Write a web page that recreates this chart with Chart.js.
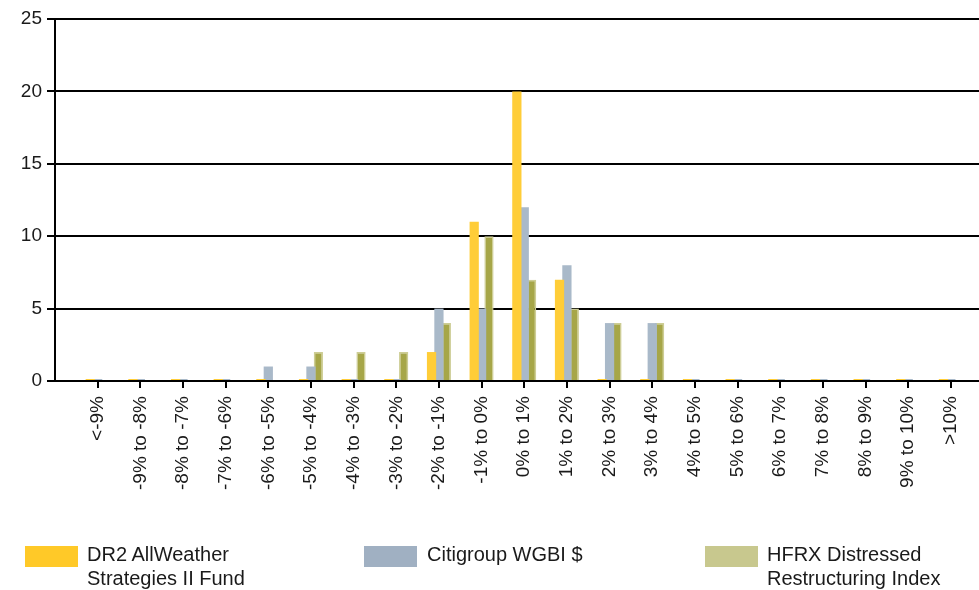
<!DOCTYPE html>
<html>
<head>
<meta charset="utf-8">
<script src="https://cdn.jsdelivr.net/npm/chart.js@4.4.1/dist/chart.umd.min.js"></script>
<style>
body { margin: 0; background: #fff; }
#wrap { position: relative; width: 979px; height: 590px; }
#legend { position: absolute; left: 0; top: 0; width: 979px; height: 590px; pointer-events: none; }
.item { position: absolute; top: 542px; font-family: "Liberation Sans", Arial, sans-serif; font-size: 20px; line-height: 24px; color: #1a1a1a; }
.sw { position: absolute; top: 4px; width: 53px; height: 21px; }
.txt { position: absolute; top: 0; white-space: nowrap; }
</style>
</head>
<body>
<div id="wrap">
<canvas id="chart" width="979" height="590"></canvas>
<div id="legend"></div>
</div>
<script>
var categories = ['<-9%', '-9% to -8%', '-8% to -7%', '-7% to -6%', '-6% to -5%', '-5% to -4%', '-4% to -3%', '-3% to -2%', '-2% to -1%', '-1% to 0%', '0% to 1%', '1% to 2%', '2% to 3%', '3% to 4%', '4% to 5%', '5% to 6%', '6% to 7%', '7% to 8%', '8% to 9%', '9% to 10%', '>10%'];
var fundValues = [0, 0, 0, 0, 0, 0, 0, 0, 2, 11, 20, 7, 0, 0, 0, 0, 0, 0, 0, 0, 0];
var wgbiValues = [0, 0, 0, 0, 1, 1, 0, 0, 5, 5, 12, 8, 4, 4, 0, 0, 0, 0, 0, 0, 0];
var hfrxValues = [0, 0, 0, 0, 0, 2, 2, 2, 4, 10, 7, 5, 4, 4, 0, 0, 0, 0, 0, 0, 0];
var seriesNames = [['DR2 AllWeather', 'Strategies II Fund'], ['Citigroup WGBI $'], ['HFRX Distressed', 'Restructuring Index']];
var yTicks = [0, 5, 10, 15, 20, 25];

function pts(vals){
	return vals.map(function(v, i){ return {x: i, y: v}; });
}

var swatchColors = ['#ffc928', '#a0b0c2', '#c8c88e'];
var legendPos = [[25, 87], [364, 427], [705, 767]];
var html = '';
for(var a = 0; a < seriesNames.length; a++){
	html += '<div class="item" style="left:0px"><div class="sw" style="left:' + legendPos[a][0] + 'px;background:' + swatchColors[a] + '"></div>' +
		'<div class="txt" style="left:' + legendPos[a][1] + 'px">' + seriesNames[a].join('<br>') + '</div></div>';
}
document.getElementById('legend').innerHTML = html;

Chart.defaults.font.family = '"Liberation Sans", Arial, sans-serif';
Chart.defaults.color = '#1a1a1a';

var ctx = document.getElementById('chart').getContext('2d');
var chart = new Chart(ctx, {
	type: 'bar',
	data: {
		datasets: [{
			label: seriesNames[0].join(' '),
			data: pts(fundValues),
			backgroundColor: '#ffcd38',
			minBarLength: 2
		}, {
			label: seriesNames[1].join(' '),
			data: pts(wgbiValues),
			backgroundColor: '#a9b9c9',
			minBarLength: 2
		}, {
			label: seriesNames[2].join(' '),
			data: pts(hfrxValues),
			backgroundColor: '#a6a648',
			borderColor: '#cdcd94',
			borderWidth: 1.5
		}]
	},
	options: {
		responsive: false,
		animation: false,
		events: [],
		categoryPercentage: 0.52,
		barPercentage: 1.25,
		layout: { padding: { top: 19, right: 0, left: 0, bottom: 0 } },
		plugins: { legend: { display: false }, tooltip: { enabled: false } },
		scales: {
			x: {
				type: 'linear',
				offset: false,
				min: -1,
				max: 20.66,
				afterBuildTicks: function(axis){
					axis.ticks = categories.map(function(c, i){ return {value: i}; });
				},
				afterFit: function(scale){ scale.height = 209; scale.paddingRight = 0; scale.paddingLeft = 0; },
				ticks: {
					autoSkip: false,
					minRotation: 90,
					maxRotation: 90,
					padding: 8,
					font: { size: 19 },
					callback: function(v){ return categories[v]; }
				},
				grid: { offset: false, drawOnChartArea: false, drawTicks: true, tickLength: 7, tickColor: '#000', lineWidth: 2 },
				border: { display: true, color: '#000', width: 2 }
			},
			y: {
				min: 0,
				max: 25,
				afterBuildTicks: function(axis){
					axis.ticks = yTicks.map(function(v){ return {value: v}; });
				},
				afterFit: function(scale){ scale.width = 55; },
				ticks: { padding: 5, font: { size: 19 } },
				grid: { color: '#000', lineWidth: 2, tickLength: 8, tickColor: '#000' },
				border: { display: true, color: '#000', width: 2 }
			}
		}
	}
});
</script>
</body>
</html>
